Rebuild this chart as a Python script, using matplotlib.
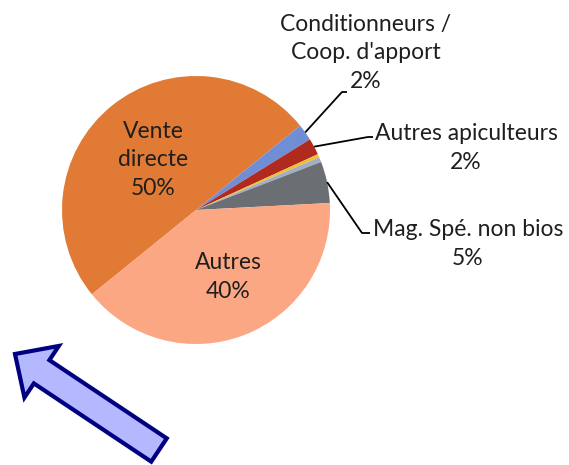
import numpy as np
import matplotlib.pyplot as plt
from matplotlib.patches import FancyArrow

# Data (share of sales channels, %)
labels = ['Vente directe', "Conditionneurs /\nCoop. d'apport", 'Autres apiculteurs',
          'Autre 1', 'Autre 2', 'Mag. Spé. non bios', 'Autres']
values = [50, 2, 2, 0.4, 0.6, 5, 40]
pct_text = ['50%', '2%', '2%', '', '', '5%', '40%']
colors = ['#E07A35', '#6F8ED6', '#B02A1E', '#F0C030', '#A3AEC6', '#6B6E72', '#FBA784']

plt.rcParams['font.family'] = ['Lato', 'DejaVu Sans']

fig = plt.figure(figsize=(5.69, 4.65), dpi=100)
ax = fig.add_axes([0, 0, 1, 1])

cx, cy, r = 196, 255, 134
start = 219
wedges, _ = ax.pie(values, colors=colors, startangle=start, counterclock=False,
                   center=(cx, cy), radius=r, frame=True)
ax.set_xlim(0, 569)
ax.set_ylim(0, 465)
ax.set_aspect('equal')
ax.axis('off')

txt_color = '#1f1f1f'
fs = 16.5
ls = 1.42

# inside labels
ax.text(153, 465 - 160, 'Vente\ndirecte\n' + pct_text[0], ha='center', va='center',
        fontsize=fs, color=txt_color, linespacing=ls)
ax.text(228, 465 - 277, 'Autres\n' + pct_text[6], ha='center', va='center',
        fontsize=fs, color=txt_color, linespacing=ls)

# outside labels with leader lines
cum = np.cumsum([0] + values[:-1])
mid = [start - (c + v / 2) * 3.6 for c, v in zip(cum, values)]

outside = {
    1: ((342, 373), (347, 373), (366, 465 - 53)),
    2: ((368, 328), (373, 328), (466, 465 - 148)),
    5: ((362, 232), (370, 232), (468, 465 - 244)),
}
for i, (elbow, end, tpos) in outside.items():
    a = np.deg2rad(mid[i])
    p0 = (cx + r * np.cos(a), cy + r * np.sin(a))
    ax.plot([p0[0], elbow[0], end[0]], [p0[1], elbow[1], end[1]],
            color='black', lw=1.3, solid_capstyle='butt')
    ax.text(tpos[0], tpos[1], labels[i] + '\n' + pct_text[i], ha='center', va='center',
            fontsize=fs, color=txt_color, linespacing=ls)

# big arrow
arrow = FancyArrow(159, 15, -144, 96, width=28, head_width=62, head_length=32,
                   length_includes_head=True, facecolor='#B4B8FF', edgecolor='#000080',
                   linewidth=3, joinstyle='miter')
ax.add_patch(arrow)

fig.savefig('out.png', dpi=100)
